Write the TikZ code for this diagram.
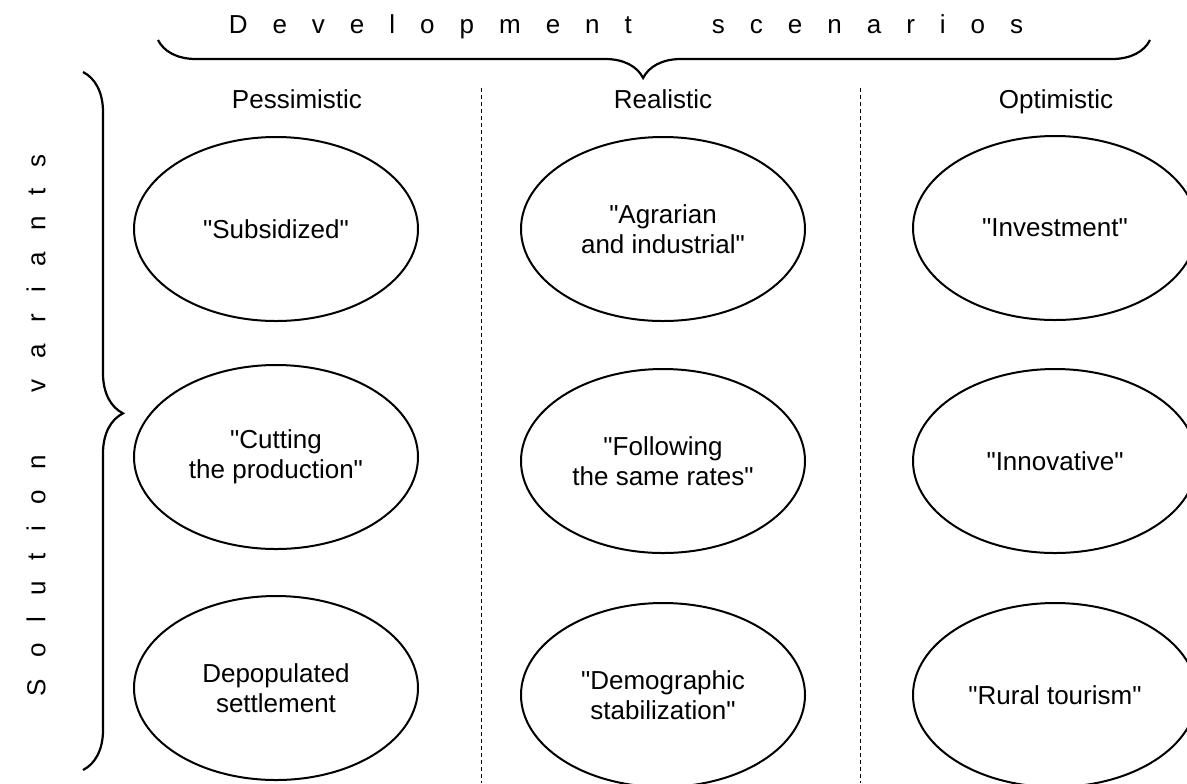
\documentclass[tikz,border=0pt]{standalone}
\usepackage{fontspec}
\setmainfont{Liberation Sans}[Ligatures=TeXOff]
\usetikzlibrary{shapes.geometric,decorations.pathreplacing}
\newcommand\lsA{\hspace{12.5pt}}
\newcommand\wsA{\hspace{40pt}}
\newcommand\lsB{\hspace{10.5pt}}
\newcommand\wsB{\hspace{31.5pt}}
\begin{document}
\begin{tikzpicture}[x=0.5pt,y=-0.5pt,
  txt/.style={font=\fontsize{13}{15}\selectfont, align=center, inner sep=0pt},
  head/.style={txt, anchor=base},
  oval/.style={ellipse, draw, line width=1pt, minimum width=142pt, minimum height=92pt, inner sep=0pt, txt},
  divider/.style={line width=0.5pt, dash pattern=on 2pt off 1.5pt},
  bracestyle/.style={decorate, decoration={brace, amplitude=#1}, line width=1.1pt}
]
\useasboundingbox (0,0) rectangle (1187,783);
% titles
\node[txt] (title) at (626,27) {D\lsA e\lsA v\lsA e\lsA l\lsA o\lsA p\lsA m\lsA e\lsA n\lsA t\wsA s\lsA c\lsA e\lsA n\lsA a\lsA r\lsA i\lsA o\lsA s};
\node[txt, rotate=90] (side) at (36,425) {S\lsB o\lsB l\lsB u\lsB t\lsB i\lsB o\lsB n\wsB v\lsB a\lsB r\lsB i\lsB a\lsB n\lsB t\lsB s};
% braces
\coordinate (tbR) at (1150,40);
\coordinate (tbL) at (158,40);
\draw[bracestyle=19pt, decoration={aspect=0.511}] (tbR) -- (tbL);
\coordinate (lbT) at (83,72);
\coordinate (lbB) at (83,770);
\draw[bracestyle=20pt, decoration={aspect=0.489}] (lbT) -- (lbB);
% dividers
\coordinate (d1t) at (481,88);
\coordinate (d1b) at (481,783);
\coordinate (d2t) at (860,88);
\coordinate (d2b) at (860,783);
\draw[divider] (d1t) -- (d1b);
\draw[divider] (d2t) -- (d2b);
% headers
\node[head] (hP) at (297,108) {Pessimistic};
\node[head] (hR) at (663,108) {Realistic};
\node[head] (hO) at (1056,108) {Optimistic};
% ellipses
\node[oval] (p1) at (276,229) {"Subsidized"};
\node[oval] (p2) at (276,457) {"Cutting\\the production"};
\node[oval] (p3) at (276,688) {Depopulated\\settlement};
\node[oval] (r1) at (663,229) {"Agrarian\\and industrial"};
\node[oval] (r2) at (663,461) {"Following\\the same rates"};
\node[oval] (r3) at (663,695) {"Demographic\\stabilization"};
\node[oval] (o1) at (1055,228) {"Investment"};
\node[oval] (o2) at (1055,461) {"Innovative"};
\node[oval] (o3) at (1055,695) {"Rural tourism"};
\end{tikzpicture}
\end{document}
